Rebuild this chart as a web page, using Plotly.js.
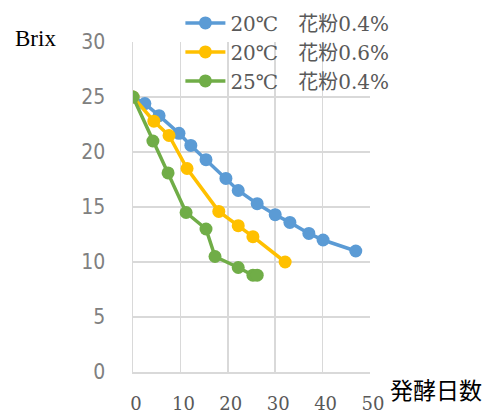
<!DOCTYPE html>
<html>
<head>
<meta charset="utf-8">
<script src="https://cdn.plot.ly/plotly-3.0.1.min.js"></script>
<style>html,body{margin:0;padding:0;background:#fff;}#chart{width:488px;height:414px;}</style>
</head>
<body>
<div id="chart"></div>
<script>
var seriesNames = ["20℃　花粉0.4%", "20℃　花粉0.6%", "25℃　花粉0.4%"];
var blueX = [0, 2.5, 5.5, 9.7, 12.2, 15.4, 19.6, 22.2, 26.2, 30, 33.1, 37.1, 40.1, 47];
var blueY = [25, 24.4, 23.3, 21.7, 20.6, 19.3, 17.6, 16.5, 15.3, 14.3, 13.6, 12.6, 12.0, 11.0];
var yellowX = [0, 4.4, 7.6, 11.4, 18.1, 22.2, 25.3, 32.1];
var yellowY = [25, 22.8, 21.5, 18.5, 14.6, 13.3, 12.3, 10.0];
var greenX = [0, 4.2, 7.4, 11.2, 15.4, 17.3, 22.2, 25.3, 26.2];
var greenY = [25, 21.0, 18.1, 14.5, 13.0, 10.5, 9.5, 8.8, 8.8];
var xTicks = [0, 10, 20, 30, 40, 50];
var yTicks = [0, 5, 10, 15, 20, 25, 30];
var yTitle = "Brix";
var xTitle = "発酵日数";

var colors = ["#5B9BD5", "#FFC000", "#70AD47"];
function tr(x, y, i) {
  return {x: x, y: y, name: seriesNames[i], type: "scatter", mode: "lines+markers",
    line: {color: colors[i], width: 3.5}, marker: {color: colors[i], size: 13}};
}
var data = [tr(blueX, blueY, 0), tr(yellowX, yellowY, 1), tr(greenX, greenY, 2)];
var layout = {
  width: 488, height: 414,
  margin: {l: 133, r: 118, t: 42, b: 42, autoexpand: false},
  paper_bgcolor: "#fff", plot_bgcolor: "#fff",
  showlegend: true,
  legend: {x: 0.2, y: 1.117, xanchor: "left", yanchor: "top", bgcolor: "rgba(0,0,0,0)",
    font: {family: "DejaVu Serif, Noto Sans CJK JP", size: 20, color: "#595959"},
    tracegroupgap: 0, itemwidth: 40},
  xaxis: {range: [0, 50], tickvals: xTicks, ticktext: xTicks.map(String), showgrid: true,
    gridcolor: "#d9d9d9", gridwidth: 1.5, zeroline: false, showline: true, linecolor: "#d9d9d9", linewidth: 1.5,
    ticks: "", ticklabelstandoff: 15, ticklabelshift: 3, fixedrange: true, automargin: false,
    tickfont: {family: "DejaVu Serif", size: 18, color: "#595959"}},
  yaxis: {range: [0, 30], tickvals: yTicks, ticktext: yTicks.map(String), showgrid: true,
    gridcolor: "#d9d9d9", gridwidth: 1.5, zeroline: false, showline: true, linecolor: "#d9d9d9", linewidth: 1.5,
    ticks: "", ticklabelstandoff: 22, fixedrange: true, automargin: false,
    tickfont: {family: "Liberation Sans Narrow, DejaVu Sans Condensed, Liberation Sans", size: 21, color: "#808080"}},
  annotations: [
    {text: yTitle, xref: "paper", yref: "paper", x: -0.507, y: 1.012, xanchor: "left", yanchor: "middle",
      showarrow: false, font: {family: "Liberation Serif", size: 23, color: "#000"}},
    {text: xTitle, xref: "paper", yref: "paper", x: 1.075, y: -0.05, xanchor: "left", yanchor: "middle",
      showarrow: false, font: {family: "Noto Sans CJK JP", size: 23, color: "#000"}}
  ]
};
Plotly.newPlot("chart", data, layout, {displayModeBar: false, staticPlot: true});
</script>
</body>
</html>
